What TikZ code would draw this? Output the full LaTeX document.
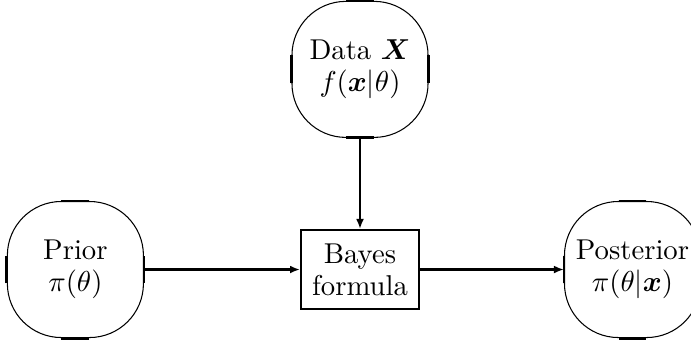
\documentclass[tikz,border=0pt]{standalone}
\usepackage{amsmath,amssymb}
\usetikzlibrary{arrows.meta, positioning}
\tikzstyle{bubble} = [rectangle, rounded corners=20.5pt, minimum width=51.7pt, minimum height=51.7pt, inner sep=0pt, align=center, draw=black, line width=0.4pt]
\tikzstyle{formula} = [rectangle, minimum width=44.8pt, minimum height=30pt, inner sep=0pt, align=center, draw=black, line width=0.8pt]
\tikzstyle{flat} = [line width=1.1pt]
\tikzstyle{arrow} = [line width=0.8pt, -{Latex[length=3.8pt,width=3pt]}]

\begin{document}
\begin{tikzpicture}[x=0.38pt, y=-0.38pt, node distance=34.6pt, every node/.style={font=\fontsize{10.9}{12.2}\selectfont}]
    \useasboundingbox (0,0) rectangle (691,342);
    \node (bayes) [formula] at (360,269.5) {Bayes\\formula};
    \node (data) [bubble, above=of bayes] {Data $\boldsymbol{X}$\\$f(\boldsymbol{x}|\theta)$};
    \node (prior) [bubble, left=59.3pt of bayes] {Prior\\$\pi(\theta)$};
    \node (post) [bubble, right=54.7pt of bayes] {Posterior\\$\pi(\theta|\boldsymbol{x})$};

    % straight parts of the rounded boxes
    \foreach \n in {prior, data, post} {
        \draw [flat] ([xshift=-5.3pt]\n.north) -- ([xshift=5.3pt]\n.north);
        \draw [flat] ([xshift=-5.3pt]\n.south) -- ([xshift=5.3pt]\n.south);
        \draw [flat] ([yshift=-5.3pt]\n.west) -- ([yshift=5.3pt]\n.west);
        \draw [flat] ([yshift=-5.3pt]\n.east) -- ([yshift=5.3pt]\n.east);
    }

    \foreach \i/\j in {prior.east/bayes.west, data.south/bayes.north, bayes.east/post.west} {
        \draw [arrow] (\i) -- (\j);
    }
\end{tikzpicture}
\end{document}
